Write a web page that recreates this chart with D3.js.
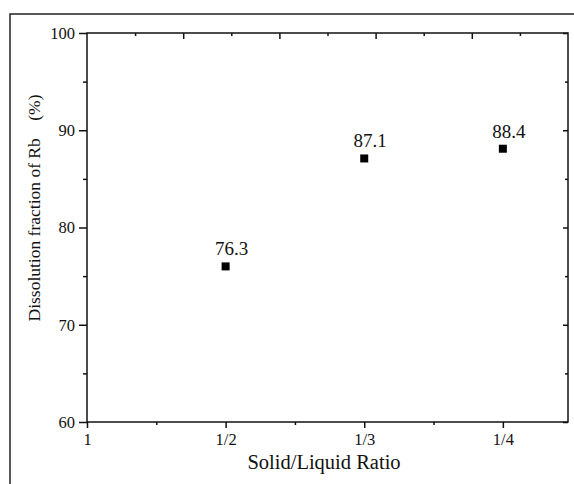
<!DOCTYPE html>
<html>
<head>
<meta charset="utf-8">
<script src="https://cdn.jsdelivr.net/npm/d3@7"></script>
<style>
  body { margin: 0; background: #fff; }
  text { font-family: "Liberation Serif", "Times New Roman", serif; fill: #111; }
</style>
</head>
<body>
<div id="chart"></div>
<script>
// data
var ratios = ["1", "1/2", "1/3", "1/4"];
var fraction = [null, 76.0, 87.1, 88.1];
var pointLabels = [null, "76.3", "87.1", "88.4"];
var yTicks = [60, 70, 80, 90, 100];

var widthPage = 574;
var heightPage = 484;
var padding = {top: 33, bottom: 62, left: 87, right: 6};
var width = widthPage - padding.left - padding.right;
var height = heightPage - padding.top - padding.bottom;

var svg = d3.select("#chart").append("svg").attr("width", widthPage).attr("height", heightPage);

// outer frame
svg.append("rect").attr("x", 10).attr("y", 14).attr("width", 600).attr("height", 500)
   .attr("fill", "none").attr("stroke", "#222").attr("stroke-width", 1.5);

var graph = svg.append("g").attr("transform", `translate(${padding.left},${padding.top})`);

var xscale = d3.scaleLinear().domain([0, 3.47]).range([0, width]);
var yscale = d3.scaleLinear().domain([60, 100]).range([height, 0]);

function styleAxis(g){
    g.attr("font-family", null);
    g.select(".domain").remove();
    g.selectAll("line").attr("stroke", "#111").attr("stroke-width", 1.5);
    g.selectAll("text").attr("font-size", "16.5px").attr("fill", "#111");
}

// minor ticks
var xminor = [0.5, 1.5, 2.5];
var yminor = [65, 75, 85, 95];

// bottom axis
var xaxis = graph.append("g").attr("transform", `translate(0,${height})`)
    .call(d3.axisBottom(xscale).tickValues([0, 1, 2, 3]).tickFormat(function(d){ return ratios[d]; }).tickSize(6).tickPadding(5));
styleAxis(xaxis);
graph.append("g").attr("transform", `translate(0,${height})`)
    .call(d3.axisBottom(xscale).tickValues(xminor).tickFormat("").tickSize(3)).call(styleAxis);

// left axis
var yaxis = graph.append("g")
    .call(d3.axisLeft(yscale).tickValues(yTicks).tickSize(8).tickPadding(4));
styleAxis(yaxis);
graph.append("g").call(d3.axisLeft(yscale).tickValues(yminor).tickFormat("").tickSize(4)).call(styleAxis);

// right axis, ticks inward
graph.append("g").attr("transform", `translate(${width},0)`)
    .call(d3.axisRight(yscale).tickValues(yTicks).tickFormat("").tickSize(-5)).call(styleAxis);
graph.append("g").attr("transform", `translate(${width},0)`)
    .call(d3.axisRight(yscale).tickValues(yminor).tickFormat("").tickSize(-3)).call(styleAxis);

// top axis has its own ten-step spacing
var topscale = d3.scaleLinear().domain([0, 10]).range([0, width]);
graph.append("g")
    .call(d3.axisTop(topscale).tickValues([2, 4, 6, 8]).tickFormat("").tickSize(-6)).call(styleAxis);
graph.append("g")
    .call(d3.axisTop(topscale).tickValues([1, 3, 5, 7, 9]).tickFormat("").tickSize(-3)).call(styleAxis);

// plot frame
graph.append("rect").attr("width", width).attr("height", height)
    .attr("fill", "none").attr("stroke", "#111").attr("stroke-width", 1.5);

// points
var points = fraction.map(function(v, i){ return {i: i, v: v, label: pointLabels[i]}; })
    .filter(function(d){ return d.v !== null; });

graph.selectAll(".pt").data(points).enter().append("rect").classed("pt", true)
    .attr("x", d => xscale(d.i) - 4).attr("y", d => yscale(d.v) - 4)
    .attr("width", 8).attr("height", 8).attr("fill", "#000");

graph.selectAll(".ptlabel").data(points).enter().append("text").classed("ptlabel", true)
    .attr("x", d => xscale(d.i) + 6).attr("y", d => yscale(d.v) - 11)
    .attr("text-anchor", "middle").attr("font-size", "19px").text(d => d.label);

// axis titles
svg.append("text").attr("x", 324).attr("y", 469).attr("text-anchor", "middle")
    .attr("font-size", "20.5px").text("Solid/Liquid Ratio");

svg.append("text").attr("transform", "translate(40,208) rotate(-90)").attr("text-anchor", "middle")
    .attr("font-size", "17.5px").attr("xml:space", "preserve").text("Dissolution fraction of Rb    (%)");
</script>
</body>
</html>
